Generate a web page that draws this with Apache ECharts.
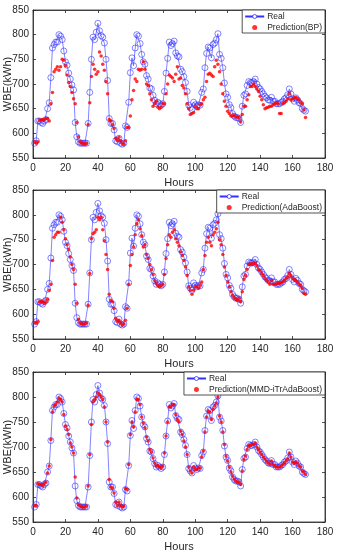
<!DOCTYPE html>
<html>
<head>
<meta charset="utf-8">
<script src="https://cdn.jsdelivr.net/npm/echarts@6/dist/echarts.min.js"></script>
<style>html,body{margin:0;padding:0;background:#fff}#c{width:337px;height:550px}</style>
</head>
<body>
<div id="c"></div>
<script>
// ---- data ----
const real = [
580,585,625,625,622,620,625,628,650,662,
713,773,780,785,785,800,797,790,767,745,
738,722,710,698,688,622,593,583,580,580,
580,580,580,620,683,750,795,790,805,823,
808,798,795,783,750,707,630,620,620,607,
585,583,590,580,578,580,615,612,663,723,
753,737,773,800,797,782,760,745,740,717,
710,692,690,677,667,660,663,660,657,660,
685,722,752,785,778,782,787,763,757,755,
730,725,715,703,685,657,652,648,663,658,
655,658,657,683,690,733,762,775,773,753,
780,783,790,802,760,752,733,702,680,673,
658,652,640,635,632,632,630,622,655,677,
680,697,705,703,703,705,710,700,693,690,
685,680,675,672,668,667,673,665,665,660,
660,660,663,665,670,672,678,690,680,670,
665,672,668,662,660,650,647,645];
const predBP = [
583,580,583,627,627,628,627,630,630,625,
660,683,725,730,735,728,735,750,748,737,
718,703,695,683,670,660,622,593,583,580,
580,578,580,618,662,715,740,730,720,725,
765,757,740,728,705,680,628,625,618,610,
590,585,592,585,580,578,585,612,612,635,
668,687,710,705,730,728,730,745,730,700,
697,680,668,655,660,665,653,650,653,660,
660,680,700,718,715,712,705,720,735,710,
712,697,692,680,660,650,638,640,642,655,
650,650,658,660,668,673,705,720,722,718,
715,735,748,740,725,700,680,665,655,645,
640,635,635,637,633,633,632,623,638,655,
655,668,678,695,695,700,695,690,685,675,
668,658,650,652,653,655,655,658,660,662,
660,640,640,660,662,665,670,680,668,670,
672,673,670,668,662,660,648,632];
const predAda = [
583,582,585,625,625,625,622,625,630,648,
660,708,755,760,765,765,795,785,770,752,
740,730,715,700,690,660,622,590,582,580,
580,580,582,618,682,752,762,765,770,795,
790,795,770,748,720,690,640,628,625,612,
592,585,588,582,578,580,588,612,660,698,
720,735,760,782,790,772,758,735,740,720,
712,700,690,680,668,662,657,655,657,660,
680,712,740,760,755,765,770,752,745,738,
725,718,708,695,678,655,648,640,648,655,
655,652,658,665,690,718,745,755,745,738,
760,765,772,785,750,740,720,695,678,665,
655,645,638,633,630,628,632,625,645,670,
678,690,700,702,700,703,702,698,690,688,
682,678,672,668,665,660,668,660,660,660,
662,662,664,665,668,672,675,682,678,672,
670,668,665,660,658,652,642,640];
const predMMD = [
583,583,627,625,625,622,627,630,648,662,
715,770,782,785,790,798,795,790,765,742,
735,725,708,700,688,640,598,585,582,580,
580,580,582,622,685,745,790,795,800,808,
805,800,795,780,750,710,635,620,618,608,
590,583,590,583,580,582,617,615,665,725,
750,740,770,795,795,785,760,748,738,720,
712,695,690,678,668,662,663,660,658,662,
688,722,750,780,780,785,785,765,755,750,
732,725,712,700,685,660,652,648,660,655,
655,658,658,680,692,730,760,772,770,755,
775,782,788,800,762,750,730,705,682,672,
660,650,642,636,632,630,630,625,652,675,
682,695,703,703,705,705,708,700,695,690,
685,680,676,672,668,665,672,665,663,660,
660,660,662,665,668,672,676,688,680,670,
667,670,668,662,660,652,650,645];
const hours = real.map((_, i) => i + 1);
const predNames = ['Prediction(BP)', 'Prediction(AdaBoost)', 'Prediction(MMD-iTrAdaBoost)'];
const preds = [predBP, predAda, predMMD];
const xTicks = {min: 0, max: 180, interval: 20};
const yTicks = {min: 550, max: 850, interval: 50};

// ---- layout ----
const grids = [
  {left: 33, right: 12, top: 10, height: 148},
  {left: 33, right: 12, top: 190, height: 149},
  {left: 33, right: 12, top: 372, height: 150}
];
const txt = '#262626';
const blue = '#3030ff';
const font = 'Liberation Sans, Arial, sans-serif';
const xAxes = [], yAxes = [], series = [], legends = [];
grids.forEach((g, i) => {
  g.show = true; g.borderColor = txt; g.borderWidth = 0.8; g.backgroundColor = '#fff';
  g.containLabel = false; g.outerBoundsMode = 'none';
  const base = {gridIndex: i, type: 'value', min: xTicks.min, max: xTicks.max, interval: xTicks.interval,
    splitLine: {show: false}, axisLine: {show: true, onZero: false, lineStyle: {color: txt, width: 0.8}},
    axisTick: {show: true, inside: true, length: 3, lineStyle: {color: txt, width: 0.8}}};
  xAxes.push(Object.assign({}, base, {position: 'bottom', name: 'Hours', nameLocation: 'middle', nameGap: 19,
    nameMoveOverlap: false,
    nameTextStyle: {color: txt, fontSize: 11, fontFamily: font},
    axisLabel: {color: txt, fontSize: 10, fontFamily: font, margin: 5}}));
  xAxes.push(Object.assign({}, base, {position: 'top', axisLabel: {show: false}}));
  const ybase = {gridIndex: i, type: 'value', min: yTicks.min, max: yTicks.max, interval: yTicks.interval,
    splitLine: {show: false}, axisLine: {show: true, onZero: false, lineStyle: {color: txt, width: 0.8}},
    axisTick: {show: true, inside: true, length: 3, lineStyle: {color: txt, width: 0.8}}};
  yAxes.push(Object.assign({}, ybase, {position: 'left', name: 'WBE(kWh)', nameLocation: 'middle', nameGap: 20,
    nameRotate: 90, nameMoveOverlap: false, nameTextStyle: {color: txt, fontSize: 11, fontFamily: font},
    axisLabel: {color: txt, fontSize: 10, fontFamily: font, margin: 4}}));
  yAxes.push(Object.assign({}, ybase, {position: 'right', axisLabel: {show: false}}));

  series.push({
    name: 'Real', type: 'line', xAxisIndex: 2 * i, yAxisIndex: 2 * i,
    data: hours.map((h, k) => [h, real[k]]),
    symbol: 'circle', symbolSize: 6, showSymbol: true,
    lineStyle: {color: blue, width: 0.6},
    itemStyle: {color: 'rgba(255,255,255,0)', borderColor: blue, borderWidth: 0.6},
    animation: false, z: 2
  });
  series.push({
    name: predNames[i], type: 'scatter', xAxisIndex: 2 * i, yAxisIndex: 2 * i,
    data: hours.map((h, k) => [h, preds[i][k]]),
    symbol: 'circle', symbolSize: 3.5,
    itemStyle: {color: '#ff0000'},
    animation: false, z: 3
  });
  legends.push({
    data: [
      {name: 'Real', itemStyle: {color: '#fff', borderColor: blue, borderWidth: 0.8}},
      {name: predNames[i]}
    ],
    right: 12, top: g.top, orient: 'vertical', align: 'left',
    itemGap: 2, itemWidth: 19, itemHeight: 5, padding: [2, 3, 1, 2],
    backgroundColor: '#fff', borderColor: txt, borderWidth: 0.8, borderRadius: 0,
    textStyle: {color: txt, fontSize: 8.5, fontFamily: font, padding: [0, 0, 0, -2]},
    selectedMode: false
  });
});

const chart = echarts.init(document.getElementById('c'), null, {renderer: 'canvas'});
chart.setOption({
  animation: false,
  backgroundColor: '#fff',
  grid: grids, xAxis: xAxes, yAxis: yAxes, series: series, legend: legends
});
</script>
</body>
</html>
